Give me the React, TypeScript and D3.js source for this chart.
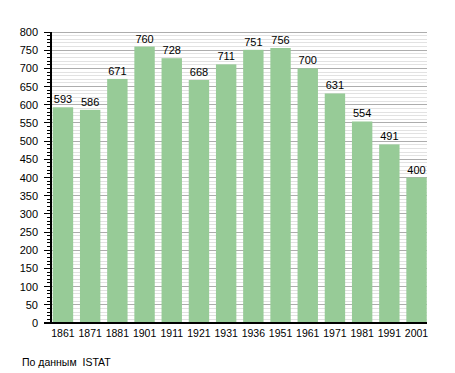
import * as d3 from "d3";

const years = ["1861", "1871", "1881", "1901", "1911", "1921", "1931", "1936", "1951", "1961", "1971", "1981", "1991", "2001"];
const population = [593, 586, 671, 760, 728, 668, 711, 751, 756, 700, 631, 554, 491, 400];
const sourceNote = "По данным  ISTAT";

const W = 455;
const H = 373;
const left = 51;
const right = 427;
const top = 32;
const bottom = 323;
const font = "'Liberation Sans', Arial, sans-serif";

export default function App() {
  const x = d3.scaleBand<string>().domain(years).range([49.5, 430]).paddingInner(0.25).paddingOuter(0.12);
  const y = d3.scaleLinear().domain([0, 800]).range([bottom, top]);
  const minor = d3.range(0, 801, 10);
  const major = d3.range(0, 801, 50);

  return (
    <div style={{ position: "absolute", left: 0, top: 0 }}>
      <svg width={W} height={H} style={{ display: "block", background: "#fff" }}>
        {minor.map((v) => (
          <line key={"g" + v} x1={left} x2={right} y1={y(v)} y2={y(v)}
            stroke={v % 50 === 0 ? "#adadad" : "#e2e2e2"} strokeWidth={1} shapeRendering="crispEdges" />
        ))}
        {years.map((yr, i) => (
          <rect key={yr} x={x(yr)!} y={y(population[i])} width={x.bandwidth()}
            height={bottom - y(population[i])} fill="#97cb97" />
        ))}
        {years.map((yr, i) => (
          <text key={"v" + yr} x={x(yr)! + x.bandwidth() / 2} y={y(population[i]) - 4}
            textAnchor="middle" fontFamily={font} fontSize={11} fill="#000">
            {population[i]}
          </text>
        ))}
        {minor.map((v) => (
          <line key={"t" + v} x1={v % 50 === 0 ? 44 : 47} x2={left} y1={y(v)} y2={y(v)}
            stroke="#000" strokeWidth={1} shapeRendering="crispEdges" />
        ))}
        {major.map((v) => (
          <text key={"l" + v} x={38} y={y(v) + 4} textAnchor="end" fontFamily={font} fontSize={11} fill="#000">
            {v}
          </text>
        ))}
        <line x1={left} x2={left} y1={top} y2={bottom} stroke="#000" strokeWidth={1.5} shapeRendering="crispEdges" />
        <line x1={44} x2={right} y1={bottom} y2={bottom} stroke="#000" strokeWidth={1.5} shapeRendering="crispEdges" />
        {years.map((yr) => (
          <text key={"x" + yr} x={x(yr)! + x.bandwidth() / 2} y={bottom + 14} textAnchor="middle"
            fontFamily={font} fontSize={10.5} fill="#000">
            {yr}
          </text>
        ))}
        <text x={22} y={366} fontFamily={font} fontSize={10.5} fill="#000" style={{ whiteSpace: "pre" }}>
          {sourceNote}
        </text>
      </svg>
    </div>
  );
}
